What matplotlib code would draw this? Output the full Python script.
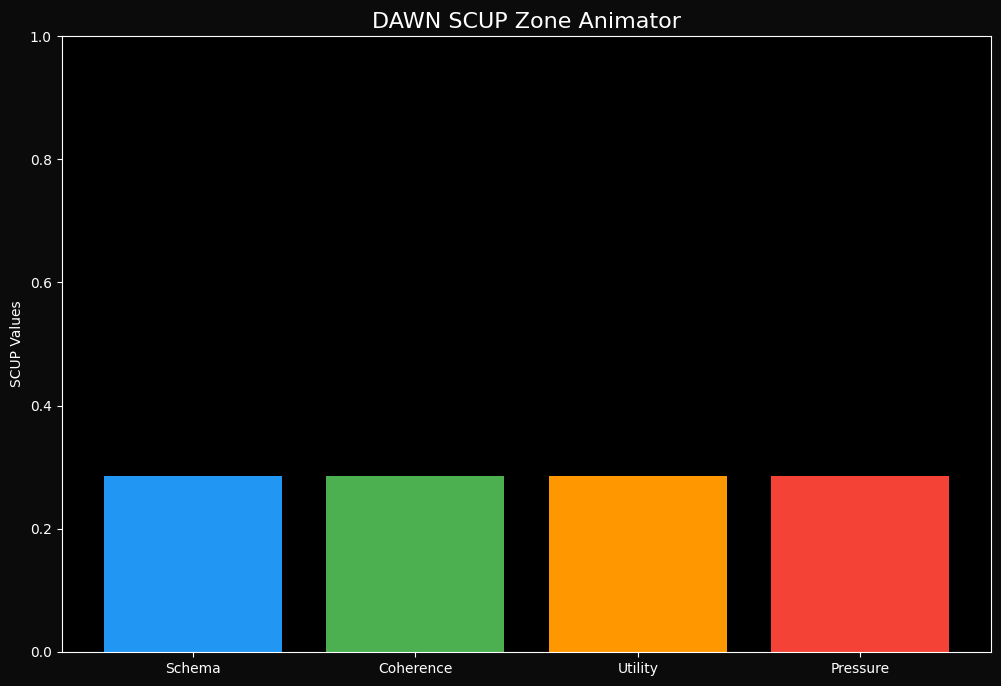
import matplotlib
matplotlib.use("Agg")
import matplotlib.pyplot as plt

# SCUP values
labels = ['Schema', 'Coherence', 'Utility', 'Pressure']
values = [0.286, 0.286, 0.286, 0.286]
colors = ['#2196F3', '#4CAF50', '#FF9800', '#F44336']

fig, ax = plt.subplots(figsize=(10.01, 6.86), dpi=100)
fig.patch.set_facecolor('#0b0b0b')
ax.set_facecolor('black')

ax.bar(labels, values, color=colors)
ax.set_ylim(0, 1)
ax.set_ylabel('SCUP Values', color='white')
ax.set_title('DAWN SCUP Zone Animator', color='white', fontsize=16)
ax.tick_params(colors='white')
for spine in ax.spines.values():
    spine.set_color('white')

plt.subplots_adjust(left=0.0615, right=0.9905, top=0.9475, bottom=0.0496)
plt.savefig('out.png', facecolor=fig.get_facecolor())
